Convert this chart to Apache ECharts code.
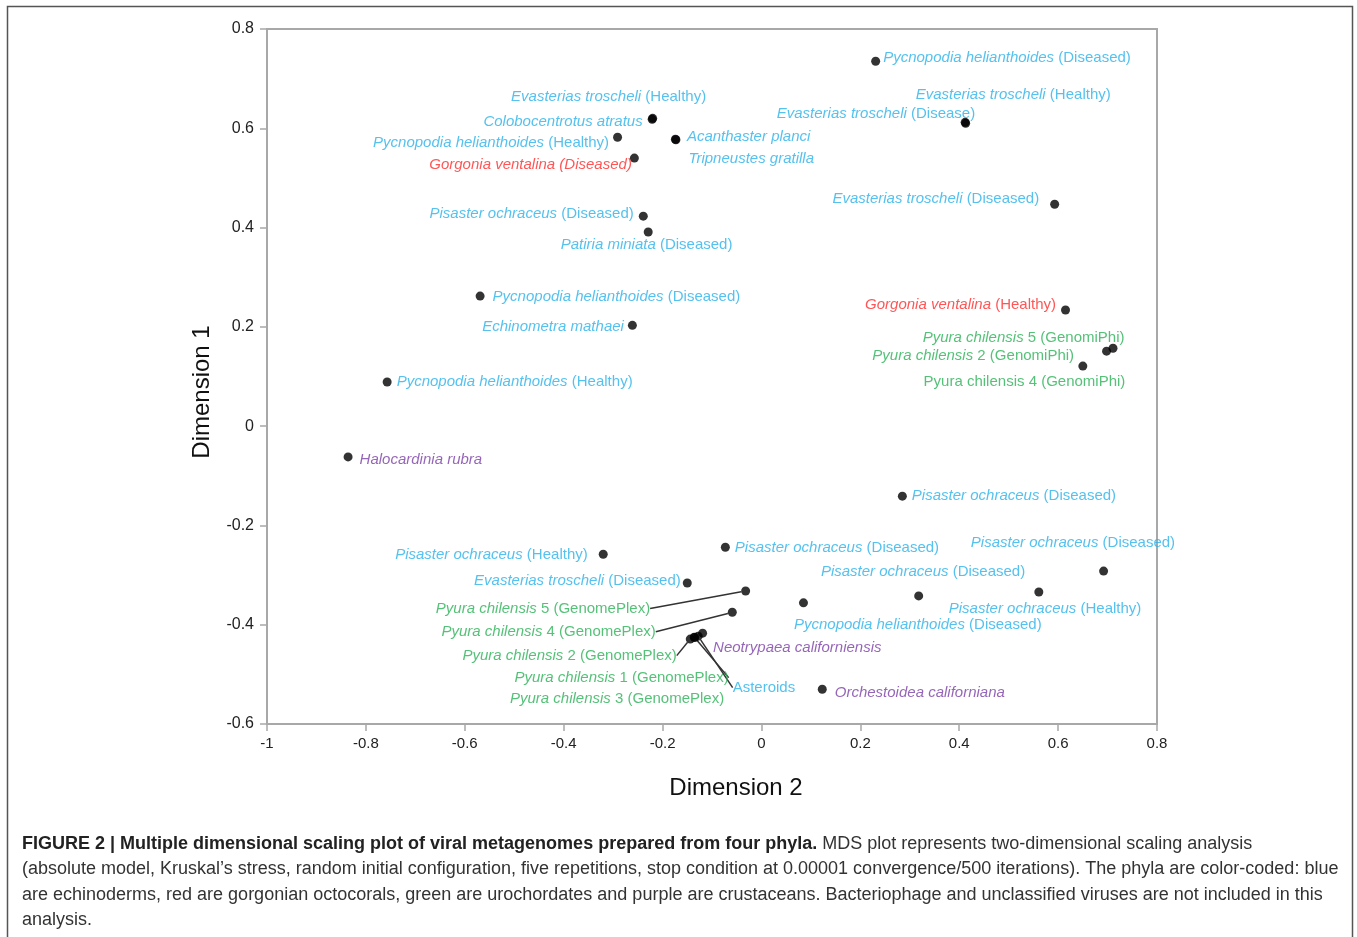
<!DOCTYPE html>
<html>
<head>
<meta charset="utf-8">
<script src="https://cdn.jsdelivr.net/npm/echarts@6/dist/echarts.min.js"></script>
<style>
html,body{margin:0;padding:0;background:#fff;}
#chart{width:1357px;height:937px;}
</style>
</head>
<body>
<div id="chart"></div>
<script>
// ---------------- DATA ----------------
const xTicks = [-1, -0.8, -0.6, -0.4, -0.2, 0, 0.2, 0.4, 0.6, 0.8];
const yTicks = [-0.6, -0.4, -0.2, 0, 0.2, 0.4, 0.6, 0.8];

const species = [
  'Pycnopodia helianthoides', 'Evasterias troscheli', 'Evasterias troscheli', 'Colobocentrotus atratus',
  'Evasterias troscheli', 'Pycnopodia helianthoides', 'Acanthaster planci', 'Tripneustes gratilla',
  'Gorgonia ventalina (Diseased)', 'Pisaster ochraceus', 'Patiria miniata', 'Evasterias troscheli',
  'Pycnopodia helianthoides', 'Echinometra mathaei', 'Pycnopodia helianthoides', 'Halocardinia rubra',
  'Gorgonia ventalina', 'Pyura chilensis', 'Pyura chilensis', 'Pyura chilensis',
  'Pisaster ochraceus', 'Pisaster ochraceus', 'Pisaster ochraceus', 'Evasterias troscheli',
  'Pisaster ochraceus', 'Pisaster ochraceus', 'Pisaster ochraceus', 'Pycnopodia helianthoides',
  'Pyura chilensis', 'Pyura chilensis', 'Pyura chilensis', 'Pyura chilensis', 'Pyura chilensis',
  'Neotrypaea californiensis', 'Asteroids', 'Orchestoidea californiana'
];
const suffixes = [
  ' (Diseased)', ' (Disease)', ' (Healthy)', '',
  ' (Healthy)', ' (Healthy)', '', '',
  '', ' (Diseased)', ' (Diseased)', ' (Diseased)',
  ' (Diseased)', '', ' (Healthy)', '',
  ' (Healthy)', ' 5 (GenomiPhi)', ' 2 (GenomiPhi)', ' 4 (GenomiPhi)',
  ' (Diseased)', ' (Healthy)', ' (Diseased)', ' (Diseased)',
  ' (Diseased)', ' (Healthy)', ' (Diseased)', ' (Diseased)',
  ' 5 (GenomePlex)', ' 4 (GenomePlex)', ' 2 (GenomePlex)', ' 1 (GenomePlex)', ' 3 (GenomePlex)',
  '', '', ''
];
// phylum: E = echinoderm, G = gorgonian, U = urochordate, C = crustacean
const phylum = [
  'E','E','E','E',
  'E','E','E','E',
  'G','E','E','E',
  'E','E','E','C',
  'G','U','U','U',
  'E','E','E','E',
  'E','E','E','E',
  'U','U','U','U','U',
  'C','E','C'
];
const dim2 = [
  0.231, 0.413, 0.412, -0.221,
  -0.220, -0.291, -0.174, -0.173,
  -0.257, -0.239, -0.229, 0.593,
  -0.569, -0.261, -0.757, -0.836,
  0.615, 0.711, 0.698, 0.650,
  0.285, -0.320, -0.073, -0.150,
  0.692, 0.561, 0.318, 0.085,
  -0.032, -0.059, -0.144, -0.136, -0.135,
  -0.119, -0.128, 0.123
];
const dim1 = [
  0.735, 0.610, 0.612, 0.618,
  0.620, 0.582, 0.578, 0.577,
  0.540, 0.423, 0.391, 0.447,
  0.262, 0.203, 0.089, -0.062,
  0.234, 0.157, 0.151, 0.121,
  -0.141, -0.258, -0.244, -0.316,
  -0.292, -0.334, -0.342, -0.356,
  -0.332, -0.375, -0.429, -0.425, -0.426,
  -0.417, -0.423, -0.530
];
const captionLines = [
  ['FIGURE 2 | Multiple dimensional scaling plot of viral metagenomes prepared from four phyla.', ' MDS plot represents two-dimensional scaling analysis'],
  ['', '(absolute model, Kruskal\u2019s stress, random initial configuration, five repetitions, stop condition at 0.00001 convergence/500 iterations). The phyla are color-coded: blue'],
  ['', 'are echinoderms, red are gorgonian octocorals, green are urochordates and purple are crustaceans. Bacteriophage and unclassified viruses are not included in this'],
  ['', 'analysis.']
];

// ---------------- LAYOUT (label placement relative to point, px) ----------------
// [align, dx, dy, leaderLine, upright]
const labelPlace = [
  ['left', 8, -3], ['right', 10, -9], ['left', -49, -27], ['right', -9, 3],
  ['right', 54, -21], ['right', -8, 6], ['left', 12, -2], ['left', 13, 20],
  ['right', -2, 7], ['right', -9, -2], ['left', -87, 13], ['right', -15, -5],
  ['left', 13, 1], ['right', -8, 2], ['left', 10, 0], ['left', 12, 3],
  ['right', -9, -5], ['right', 12, -10], ['right', -32, 5], ['right', 43, 16, false, true],
  ['left', 10, 0], ['right', -15, 1], ['left', 10, 1], ['right', -6, -2],
  ['right', 72, -28], ['right', 103, 17], ['right', 107, -24], ['left', -9, 22],
  ['right', -95, 18, true], ['right', -76, 20, true], ['right', -13, 17, true], ['right', 35, 41, true], ['right', 30, 62],
  ['left', 11, 15], ['left', 35, 52, true], ['left', 13, 4]
];

const phylumColor = { E: '#29b2ea', G: '#ff2a2a', U: '#2bb256', C: '#7a3ea6' };

const fam = "'Liberation Sans', Arial, sans-serif";
const labelSize = 15;
const captionSize = 18;
const titleSize = 24;

const points = dim2.map((x, i) => {
  const p = labelPlace[i];
  const col = phylumColor[phylum[i]];
  const upright = !!p[4];
  const sp = species[i], sf = suffixes[i];
  let fmt;
  if (sp === 'Asteroids') fmt = '{n|' + sp + '}';
  else if (sp.indexOf('(Diseased)') >= 0) fmt = '{i|' + sp + '}';
  else fmt = (upright ? '{n|' + sp + '}' : '{i|' + sp + '}') + (sf ? '{n|' + sf + '}' : '');
  return {
    value: [x, dim1[i]],
    name: sp + sf,
    label: {
      show: true,
      position: [4 + p[1], 4 + p[2]],
      align: p[0],
      verticalAlign: 'middle',
      formatter: fmt,
      rich: {
        i: { fontStyle: 'italic', color: col, fontSize: labelSize, fontFamily: fam },
        n: { fontStyle: 'normal', color: col, fontSize: labelSize, fontFamily: fam }
      }
    },
    labelLine: { show: !!p[3], lineStyle: { color: '#333', width: 1.5 } }
  };
});

const chart = echarts.init(document.getElementById('chart'), null, { renderer: 'canvas' });

const graphics = [
  { type: 'rect', shape: { x: 7.5, y: 6.5, width: 1345, height: 945 }, style: { fill: null, stroke: '#555', lineWidth: 1.5 }, silent: true },
  { type: 'text', x: 202, y: 392, rotation: Math.PI / 2,
    style: { text: 'Dimension 1', fontSize: titleSize, fontFamily: fam, fill: '#111', align: 'center', verticalAlign: 'middle' } },
  { type: 'text', x: 736, y: 788,
    style: { text: 'Dimension 2', fontSize: titleSize, fontFamily: fam, fill: '#111', align: 'center', verticalAlign: 'middle' } }
];
const capY = [844, 869.5, 895, 920];
captionLines.forEach((ln, k) => {
  graphics.push({
    type: 'text', x: 22, y: capY[k],
    style: {
      text: (ln[0] ? '{b|' + ln[0] + '}' : '') + '{n|' + ln[1] + '}',
      verticalAlign: 'middle', align: 'left',
      rich: {
        b: { fontWeight: 'bold', fontSize: captionSize, fontFamily: fam, fill: '#222' },
        n: { fontWeight: 'normal', fontSize: captionSize, fontFamily: fam, fill: '#333' }
      }
    }
  });
});

chart.setOption({
  animation: false,
  backgroundColor: '#fff',
  grid: { left: 267, right: 200, top: 29, bottom: 213, show: true, borderColor: '#a8a8a8', borderWidth: 2, backgroundColor: 'transparent' },
  xAxis: {
    type: 'value', min: xTicks[0], max: xTicks[xTicks.length - 1], interval: 0.2,
    axisLine: { show: true, onZero: false, lineStyle: { color: '#a8a8a8', width: 2 } },
    axisTick: { show: true, inside: false, length: 7, lineStyle: { color: '#a8a8a8', width: 1.5 } },
    splitLine: { show: false },
    axisLabel: { color: '#222', fontSize: 15, fontFamily: fam, margin: 12,
      formatter: v => String(Math.round(v * 10) / 10) }
  },
  yAxis: {
    type: 'value', min: yTicks[0], max: yTicks[yTicks.length - 1], interval: 0.2,
    axisLine: { show: true, onZero: false, lineStyle: { color: '#a8a8a8', width: 2 } },
    axisTick: { show: true, inside: false, length: 7, lineStyle: { color: '#a8a8a8', width: 1.5 } },
    splitLine: { show: false },
    axisLabel: { color: '#222', fontSize: 16, fontFamily: fam, margin: 13,
      formatter: v => String(Math.round(v * 10) / 10) }
  },
  series: [{
    type: 'scatter',
    symbol: 'circle',
    symbolSize: 9,
    itemStyle: { color: '#000' },
    data: points,
    z: 5
  }],
  graphic: graphics
});
</script>
</body>
</html>
